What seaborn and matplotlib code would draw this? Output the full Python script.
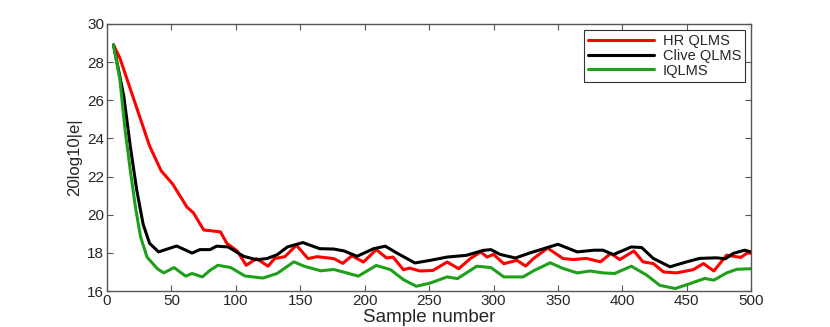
import matplotlib
matplotlib.use("Agg")
import matplotlib.pyplot as plt
import pandas as pd
import seaborn as sns

# values
hr_x = [5, 10, 15, 23, 33, 42, 51, 62, 67, 75, 88, 93, 101, 108, 116, 125, 130, 138, 147, 156,
        163, 176, 183, 190, 199, 209, 217, 222, 230, 235, 243, 253, 264, 273, 282, 290, 295, 300,
        308, 318, 325, 331, 342, 354, 362, 372, 383, 391, 398, 409, 416, 424, 432, 442, 455, 463,
        471, 481, 492, 497, 500]
hr_y = [28.9, 28.2, 27.2, 25.6, 23.6, 22.3, 21.6, 20.4, 20.1, 19.2, 19.1, 18.5, 18.1, 17.35, 17.7,
        17.3, 17.7, 17.8, 18.4, 17.7, 17.8, 17.7, 17.45, 17.85, 17.52, 18.17, 17.73, 17.78, 17.12,
        17.2, 17.05, 17.08, 17.52, 17.17, 17.7, 18.05, 17.78, 17.92, 17.43, 17.61, 17.31, 17.7,
        18.25, 17.7, 17.65, 17.71, 17.53, 17.97, 17.65, 18.1, 17.53, 17.44, 17.0, 16.95, 17.12,
        17.44, 17.05, 17.88, 17.76, 18.0, 17.97]

clive_x = [5, 13, 18, 23, 28, 33, 40, 54, 66, 72, 80, 85, 94, 106, 116, 124, 132, 140, 152, 165,
           176, 184, 194, 207, 216, 225, 239, 251, 264, 279, 292, 298, 305, 317, 328, 339, 350,
           365, 378, 385, 393, 407, 415, 424, 437, 450, 460, 473, 480, 486, 495, 500]
clive_y = [28.9, 26.2, 23.6, 21.3, 19.5, 18.5, 18.05, 18.36, 17.99, 18.17, 18.17, 18.35, 18.31,
           17.82, 17.64, 17.7, 17.9, 18.31, 18.54, 18.22, 18.2, 18.1, 17.82, 18.22, 18.35, 17.99,
           17.47, 17.61, 17.78, 17.87, 18.13, 18.17, 17.92, 17.73, 17.99, 18.22, 18.45, 18.05,
           18.14, 18.14, 17.91, 18.31, 18.28, 17.71, 17.27, 17.53, 17.71, 17.74, 17.69, 17.97,
           18.14, 18.05]

iq_x = [5, 10, 14, 18, 22, 26, 31, 39, 44, 52, 61, 66, 74, 80, 86, 96, 107, 121, 132, 145, 153,
        166, 176, 186, 195, 209, 220, 230, 240, 251, 264, 272, 287, 298, 308, 323, 331, 344, 354,
        365, 375, 385, 394, 407, 419, 429, 441, 453, 464, 471, 481, 489, 500]
iq_y = [28.9, 27.06, 24.44, 22.34, 20.41, 18.84, 17.78, 17.17, 16.95, 17.23, 16.78, 16.92, 16.74,
        17.09, 17.35, 17.23, 16.79, 16.68, 16.92, 17.53, 17.3, 17.06, 17.13, 16.95, 16.78, 17.34,
        17.12, 16.6, 16.25, 16.42, 16.74, 16.65, 17.3, 17.23, 16.74, 16.74, 17.06, 17.48, 17.18,
        16.95, 17.05, 16.95, 16.92, 17.3, 16.83, 16.3, 16.13, 16.4, 16.66, 16.57, 16.95, 17.14,
        17.17]

names = ["HR QLMS", "Clive QLMS", "IQLMS"]
colors = ["#ff0000", "#000000", "#1ea01a"]

df = pd.concat([
    pd.DataFrame({"x": hr_x, "y": hr_y, "alg": names[0]}),
    pd.DataFrame({"x": clive_x, "y": clive_y, "alg": names[1]}),
    pd.DataFrame({"x": iq_x, "y": iq_y, "alg": names[2]}),
], ignore_index=True)

sns.set_style("ticks")
plt.rcParams["font.family"] = ["Liberation Sans", "DejaVu Sans"]

fig = plt.figure(figsize=(8.3, 3.27), dpi=100)
ax = fig.add_axes([0.129, 0.110, 0.776, 0.817])

sns.lineplot(data=df, x="x", y="y", hue="alg", palette=dict(zip(names, colors)),
             estimator=None, sort=False, linewidth=2.2, ax=ax)

ax.set_xlim(0, 500)
ax.set_ylim(16, 30)
ax.set_xticks(range(0, 501, 50))
ax.set_yticks(range(16, 31, 2))
ax.tick_params(direction="in", top=True, right=True, length=4, labelsize=11, pad=2,
               color="#555555")
for s in ax.spines.values():
    s.set_color("#555555")
    s.set_linewidth(1.0)
ax.set_xlabel("Sample number", fontsize=13.5, labelpad=1)
ax.set_ylabel("20log10|e|", fontsize=12, labelpad=4)

leg = ax.legend(loc="upper right", fontsize=10.5, frameon=True, fancybox=False,
                edgecolor="black", handlelength=4.5, borderaxespad=0.4,
                labelspacing=0.05, borderpad=0.3, handletextpad=0.6)
leg.get_frame().set_linewidth(0.8)
leg.set_title(None)

fig.savefig("out.png", dpi=100)
